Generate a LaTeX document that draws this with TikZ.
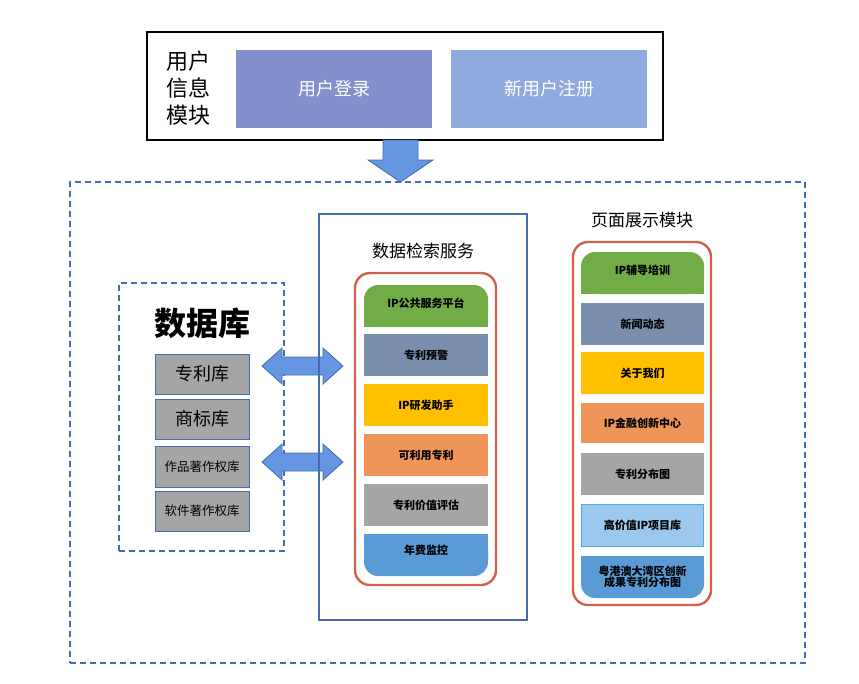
\documentclass[tikz,border=0pt]{standalone}
\usepackage{fontspec}
\setmainfont{Noto Sans CJK SC}
\definecolor{dblue}{RGB}{68,108,176}
\definecolor{rred}{RGB}{208,98,74}
\definecolor{cgreen}{RGB}{112,173,71}
\definecolor{cslate}{RGB}{122,143,173}
\definecolor{cyellow}{RGB}{255,192,0}
\definecolor{corange}{RGB}{240,149,90}
\definecolor{cgray}{RGB}{165,165,165}
\definecolor{cblue}{RGB}{91,155,213}
\definecolor{clight}{RGB}{157,200,238}
\definecolor{arrowc}{RGB}{100,150,225}
\tikzset{
 item/.style={minimum width=124pt,minimum height=42pt,inner sep=0pt,font=\fontsize{11}{12}\selectfont\bfseries,align=center},
 db/.style={draw=dblue,fill=cgray,minimum width=94pt,minimum height=40pt,inner sep=0pt},
 dsh/.style={draw=dblue,line width=1.8pt,dash pattern=on 6pt off 4pt},
 dbl/.style={draw=dblue,fill=arrowc,line width=0.8pt},
}
\begin{document}
\begin{tikzpicture}[x=1pt,y=-1pt]
\useasboundingbox (0,0) rectangle (859,683);
% top module
\node[draw=black,line width=2.5pt,minimum width=516pt,minimum height=108pt,inner sep=0pt] (top) at (405,86) {};
\node[font=\fontsize{22}{27}\selectfont,align=left] (tt) at (188,88) {用户\\信息\\模块};
\node[fill={rgb,255:red,132;green,144;blue,204},minimum width=196pt,minimum height=78pt,text=white,font=\fontsize{18}{20}\selectfont] (login) at (334,89) {用户登录};
\node[fill={rgb,255:red,143;green,170;blue,220},minimum width=196pt,minimum height=78pt,text=white,font=\fontsize{18}{20}\selectfont] (reg) at (549,89) {新用户注册};
\draw[dbl] (383,140)--(418,140)--(418,160)--(433,160)--(400.5,182)--(368,160)--(383,160)--cycle;
% big dashed
\node[dsh,minimum width=735pt,minimum height=481pt,inner sep=0pt] (big) at (437.5,422.5) {};
% database
\node[dsh,minimum width=165pt,minimum height=268pt,inner sep=0pt] (dbbox) at (201.5,417) {};
\node[font=\fontsize{32}{36}\selectfont\bfseries] (dbt) at (202,323) {数据库};
\node[db,font=\fontsize{18}{20}\selectfont] (d1) at (202,374) {专利库};
\node[db,font=\fontsize{18}{20}\selectfont] (d2) at (202,419) {商标库};
\node[db,minimum height=41pt,font=\fontsize{12.5}{14}\selectfont] (d3) at (202,466.5) {作品著作权库};
\node[db,font=\fontsize{12.5}{14}\selectfont] (d4) at (202,511) {软件著作权库};
\foreach \y in {366,462}{
 \draw[dbl] (262,\y)--(282,\y-18)--(282,\y-9)--(323,\y-9)--(323,\y-18)--(343,\y)--(323,\y+18)--(323,\y+9)--(282,\y+9)--(282,\y+18)--cycle;}
\coordinate (a1) at (302,366);
% service
\node[draw=dblue,line width=1.8pt,minimum width=208pt,minimum height=406pt,inner sep=0pt] (svc) at (423,417) {};
\node[font=\fontsize{17}{19}\selectfont] (svct) at (423,251) {数据检索服务};
\node[draw=rred,line width=2.4pt,rounded corners=15pt,minimum width=141pt,minimum height=312pt,inner sep=0pt] (svr) at (425.5,429) {};
\fill[cgreen,rounded corners=14pt] (364,327)--(364,285)--(488,285)--(488,327)--cycle;
\fill[cgreen] (364,310) rectangle (488,327);
\node[item] (s1) at (426,303) {IP公共服务平台};
\node[item,fill=cslate] (s2) at (426,355) {专利预警};
\node[item,fill=cyellow] (s3) at (426,405) {IP研发助手};
\node[item,fill=corange] (s4) at (426,455) {可利用专利};
\node[item,fill=cgray] (s5) at (426,505) {专利价值评估};
\fill[cblue,rounded corners=14pt] (364,534)--(364,576)--(488,576)--(488,534)--cycle;
\fill[cblue] (364,534) rectangle (488,550);
\node[item] (s6) at (426,550) {年费监控};
% page
\node[font=\fontsize{17}{19}\selectfont] (pgt) at (642,220) {页面展示模块};
\node[draw=rred,line width=2.4pt,rounded corners=15pt,minimum width=138pt,minimum height=363pt,inner sep=0pt] (pgr) at (642,423.5) {};
\fill[cgreen,rounded corners=14pt] (581,294)--(581,252)--(704,252)--(704,294)--cycle;
\fill[cgreen] (581,277) rectangle (704,294);
\node[item,minimum width=123pt] (p1) at (642.5,270) {IP辅导培训};
\node[item,minimum width=123pt,fill=cslate] (p2) at (642.5,324) {新闻动态};
\node[item,minimum width=123pt,fill=cyellow] (p3) at (642.5,373) {关于我们};
\node[item,minimum width=123pt,minimum height=40pt,fill=corange] (p4) at (642.5,423) {IP金融创新中心};
\node[item,minimum width=123pt,fill=cgray] (p5) at (642.5,474) {专利分布图};
\node[item,minimum width=122pt,fill=clight,draw={rgb,255:red,80;green,170;blue,225}] (p6) at (642.5,525) {高价值IP项目库};
\fill[cblue,rounded corners=14pt] (581,556)--(581,598)--(704,598)--(704,556)--cycle;
\fill[cblue] (581,556) rectangle (704,572);
\node[item,minimum width=123pt,font=\fontsize{11}{11}\selectfont\bfseries] (p7) at (642.5,577) {粤港澳大湾区创新\\成果专利分布图};
\end{tikzpicture}
\end{document}
